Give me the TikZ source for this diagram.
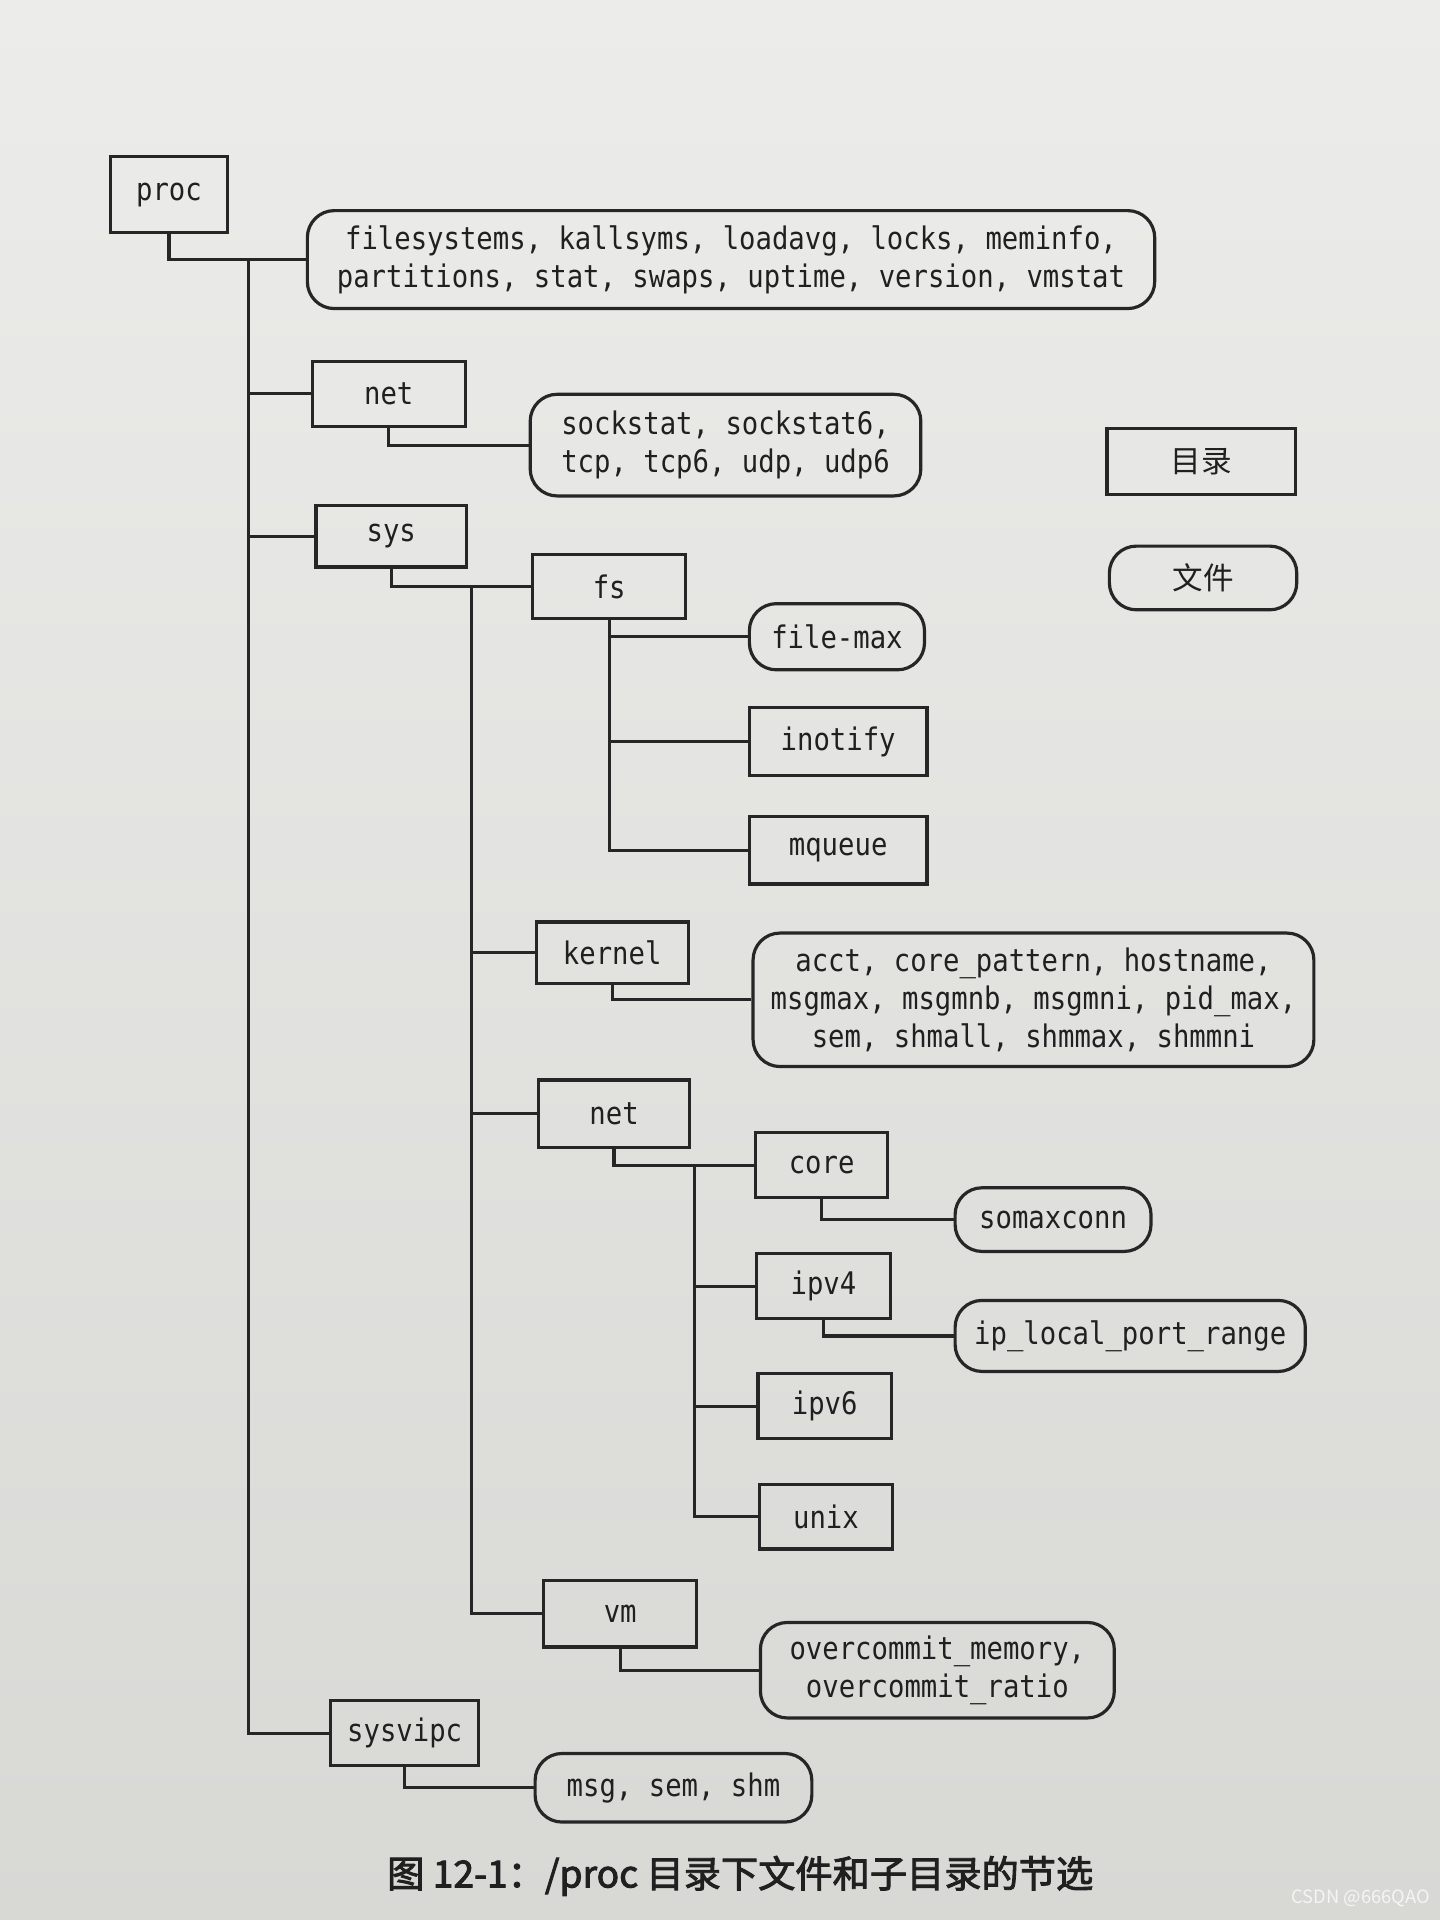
\documentclass[tikz,border=0pt]{standalone}
\usepackage{fontspec}
\newfontfamily\monof[FakeStretch=0.877]{DejaVu Sans Mono}
\newfontfamily\cjk{Noto Sans CJK SC}
\newfontfamily\cjkcap[FakeBold=2.5]{Noto Sans CJK SC}
\usetikzlibrary{calc}
\definecolor{paperTop}{RGB}{236,236,234}
\definecolor{paperBot}{RGB}{216,216,213}
\definecolor{linec}{RGB}{38,38,38}
\definecolor{textc}{RGB}{32,32,32}
\tikzset{
  base/.style={draw=linec, line width=1.3pt, inner sep=0pt, text=textc, align=center,
    font=\monof\fontsize{12.7}{15.5}\selectfont},
  dirbox/.style={base},
  filebox/.style={base, rounded corners=11pt},
  conn/.style={draw=linec, line width=1.3pt},
  wh/.style 2 args={minimum width=#1pt, minimum height=#2pt}
}
\begin{document}
\begin{tikzpicture}[x=0.5pt, y=-0.5pt]
\shade[top color=paperTop, bottom color=paperBot] (0,0) rectangle (1176,1568);
\useasboundingbox (0,0) rectangle (1176,1568);

% nodes
\node[dirbox, wh={48}{31}] (proc) at (138,159) {proc};
\node[filebox, wh={346}{40}] (files1) at (597,212) {filesystems, kallsyms, loadavg, locks, meminfo,\\partitions, stat, swaps, uptime, version, vmstat};
\node[dirbox, wh={62.5}{26.5}] (net1) at (317.5,321.5) {net};
\node[filebox, wh={159.5}{41.5}] (netfiles) at (592.5,363.5) {sockstat, sockstat6,\\tcp, tcp6, udp, udp6};
\node[dirbox, wh={61.5}{25}] (sys) at (319.5,438) {sys};
\node[dirbox, wh={62.5}{26}] (fs) at (497.5,479) {fs};
\node[filebox, wh={71.5}{27}] (filemax) at (683.5,520) {file-max};
\node[dirbox, wh={72.5}{27.5}] (inotify) at (684.5,605.5) {inotify};
\node[dirbox, wh={72.5}{27.5}] (mqueue) at (684.5,694.5) {mqueue};
\node[dirbox, wh={62}{25}] (kernel) at (500,778) {kernel};
\node[filebox, wh={229}{54.5}] (kernelfiles) at (844,816.5) {acct, core\_pattern, hostname,\\msgmax, msgmnb, msgmni, pid\_max,\\sem, shmall, shmmax, shmmni};
\node[dirbox, wh={61.5}{27.5}] (net2) at (501.5,909.5) {net};
\node[dirbox, wh={54}{26.5}] (core) at (671,951.5) {core};
\node[filebox, wh={80}{26}] (somaxconn) at (860,996) {somaxconn};
\node[dirbox, wh={54.5}{26.5}] (ipv4) at (672.5,1050.5) {ipv4};
\node[filebox, wh={143}{29}] (iplocal) at (923,1091) {ip\_local\_port\_range};
\node[dirbox, wh={54.5}{26.5}] (ipv6) at (673.5,1148.5) {ipv6};
\node[dirbox, wh={54.5}{26.5}] (unix) at (674.5,1238.5) {unix};
\node[dirbox, wh={62.5}{27}] (vm) at (506.5,1318) {vm};
\node[filebox, wh={144.5}{39}] (vmfiles) at (765.5,1364) {overcommit\_memory,\\overcommit\_ratio};
\node[dirbox, wh={60.5}{26.5}] (sysvipc) at (330.5,1415.5) {sysvipc};
\node[filebox, wh={113}{28}] (ipcfiles) at (550,1460) {msg, sem, shm};

% legend
\node[dirbox, wh={77}{27}, font=\cjk\fontsize{12.5}{15}\selectfont] (legdir) at (981,377) {目录};
\node[filebox, wh={76.5}{26}, font=\cjk\fontsize{12.5}{15}\selectfont] (legfile) at (982.5,472) {文件};

% trunk coordinates
\coordinate (t1) at (203,0);
\coordinate (t2) at (385,0);
\coordinate (t4) at (567,0);

% connectors
\draw[conn] (proc.south) |- (files1.west);
\draw[conn] (t1 |- files1.west) |- (sysvipc.west);
\draw[conn] (t1 |- net1.west) -- (net1.west);
\draw[conn] (t1 |- sys.west) -- (sys.west);
\draw[conn] (net1.south) |- (netfiles.west);
\draw[conn] (sys.south) |- (fs.west);
\draw[conn] (t2 |- fs.west) |- (vm.west);
\draw[conn] (t2 |- kernel.west) -- (kernel.west);
\draw[conn] (t2 |- net2.west) -- (net2.west);
\draw[conn] (fs.south) |- (mqueue.west);
\draw[conn] (fs.south |- filemax.west) -- (filemax.west);
\draw[conn] (fs.south |- inotify.west) -- (inotify.west);
\draw[conn] (kernel.south) |- (kernelfiles.west);
\draw[conn] (net2.south) |- (core.west);
\draw[conn] (t4 |- core.west) |- (unix.west);
\draw[conn] (t4 |- ipv4.west) -- (ipv4.west);
\draw[conn] (t4 |- ipv6.west) -- (ipv6.west);
\draw[conn] (core.south) |- (somaxconn.west);
\draw[conn] (ipv4.south) |- (iplocal.west);
\draw[conn] (vm.south) |- (vmfiles.west);
\draw[conn] (sysvipc.south) |- (ipcfiles.west);

% caption
\node[text=textc, font=\cjkcap\fontsize{15.2}{18}\selectfont, inner sep=0pt] (caption) at (604.5,1532) {图 12-1：/proc 目录下文件和子目录的节选};
\node[text=white!92!gray, font=\cjk\fontsize{7.5}{9}\selectfont, anchor=east, inner sep=0pt] (wm) at (1168,1550) {CSDN @666QAO};
\end{tikzpicture}
\end{document}
